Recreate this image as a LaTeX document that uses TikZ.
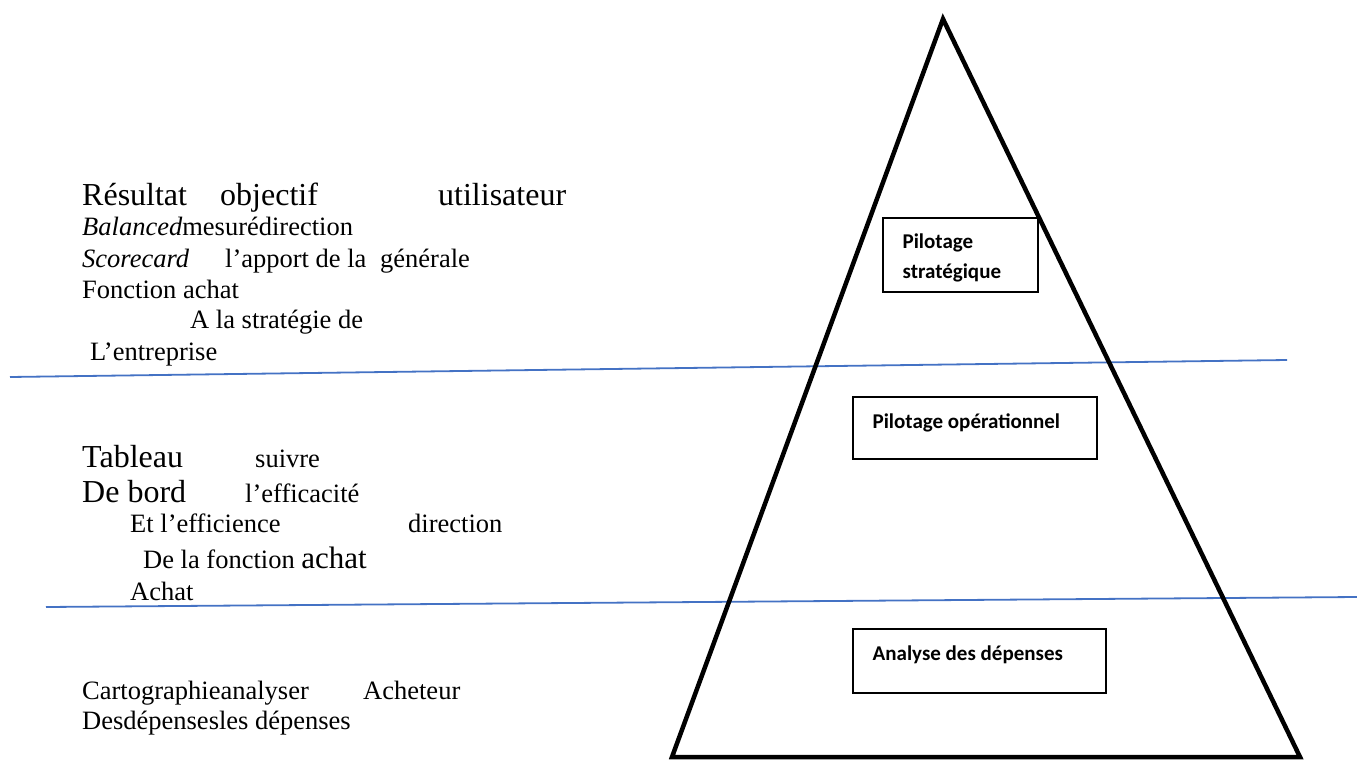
\documentclass[tikz,border=0pt]{standalone}
\usepackage{fontspec}
\setmainfont{Liberation Serif}
\newfontfamily\timesfont{Liberation Serif}
\newfontfamily\boxfont{Carlito}
\usetikzlibrary{positioning}

\definecolor{sepblue}{RGB}{68,114,196}

\newcommand{\smalltxt}{\timesfont\fontsize{26.5}{31}\selectfont}
\newcommand{\bigword}[1]{\scalebox{1.2075}{#1}}

\begin{document}
\begin{tikzpicture}[
    x=1pt, y=-1pt,
    txt/.style={anchor=base west, inner sep=0pt, font=\smalltxt},
    pbox/.style={rectangle, draw, line width=1.1pt, inner sep=0pt},
    plabel/.style={inner sep=0pt, align=left, font=\boxfont\bfseries\fontsize{21}{30}\selectfont},
    sep/.style={draw=sepblue, line width=1.8pt},
    pyramid/.style={line width=4.5pt, line join=miter}
]
\useasboundingbox (0,0) rectangle (1357,762);

% separating lines
\coordinate (sepAl) at (10,377);
\coordinate (sepAr) at (1287,360);
\coordinate (sepBl) at (46,607);
\coordinate (sepBr) at (1357,597);
\draw[sep] (sepAl) -- (sepAr);
\draw[sep] (sepBl) -- (sepBr);

% pyramid
\coordinate (apex) at (943,19);
\coordinate (baseright) at (1300,757);
\coordinate (baseleft) at (672,757);
\draw[pyramid] (apex) -- (baseright) -- (baseleft) -- cycle;

% levels
\node[pbox, minimum width=155pt, minimum height=74pt] (strat) at (960.5,255) {};
\node[plabel, right=20pt of strat.west, yshift=-3pt] (stratlabel) {Pilotage\\strat\'egique};
\node[pbox, minimum width=244pt, minimum height=62pt] (oper) at (975,428) {};
\node[plabel, right=20pt of oper.west, yshift=5pt] (operlabel) {Pilotage op\'erationnel};
\node[pbox, minimum width=253pt, minimum height=64pt] (depenses) at (979.5,661) {};
\node[plabel, right=20pt of depenses.west, yshift=6pt] (depenseslabel) {Analyse des d\'epenses};

% strategic level text
\node[txt] (resultat) at (82,206) {\bigword{Résultat}};
\node[txt] (objectif) at (220,206) {\bigword{objectif}};
\node[txt] (utilisateur) at (438,206) {\bigword{utilisateur}};
\node[txt] (balanced) at (82,235) {\textit{Balanced}mesurédirection};
\node[txt] (scorecard) at (82,267) {\textit{Scorecard}};
\node[txt] (apport) at (225,267) {l’apport de la};
\node[txt] (generale) at (380,267) {générale};
\node[txt] (fonction) at (82,298) {Fonction achat};
\node[txt] (strategie) at (190,328) {A la stratégie de};
\node[txt] (entreprise) at (90,360) {L’entreprise};

% operational level text
\node[txt] (tableau) at (82,467) {\bigword{Tableau}};
\node[txt] (suivre) at (255,467) {suivre};
\node[txt] (debord) at (82,502) {\bigword{De bord}};
\node[txt] (efficacite) at (245,502) {l’efficacité};
\node[txt] (efficience) at (130,532) {Et l’efficience};
\node[txt] (direction) at (408,532) {direction};
\node[txt] (delafonction) at (143,568) {De la fonction \scalebox{1.17}{achat}};
\node[txt] (achat) at (130,600) {Achat};

% spending level text
\node[txt] (cartographie) at (82,699) {Cartographieanalyser};
\node[txt] (acheteur) at (363,699) {Acheteur};
\node[txt] (desdepenses) at (82,729) {Desdépensesles dépenses};
\end{tikzpicture}
\end{document}
